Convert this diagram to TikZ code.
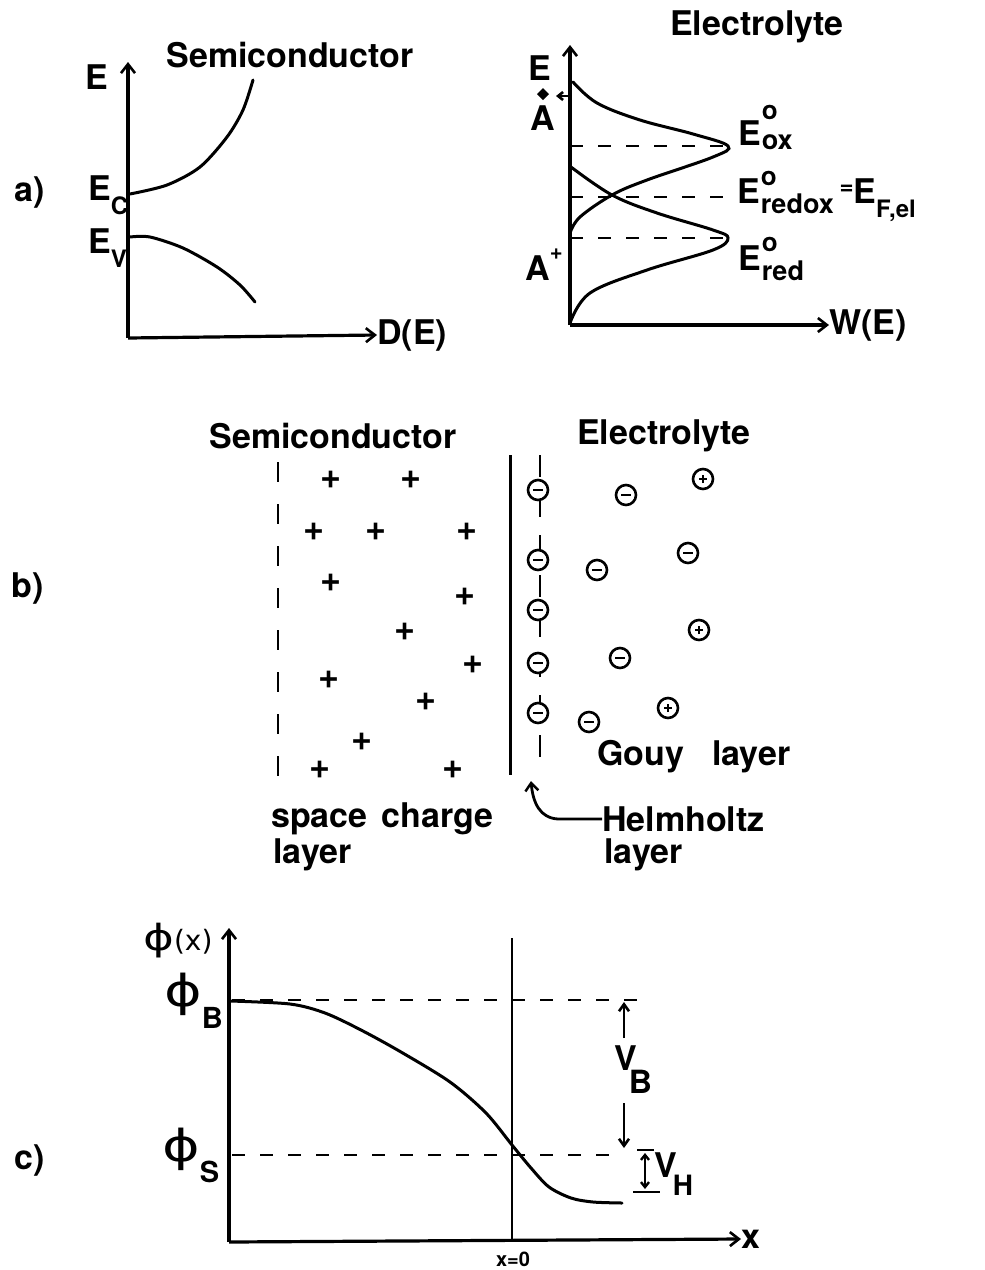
\documentclass[tikz,border=0pt]{standalone}
\usepackage{fontspec}
\setmainfont{TeX Gyre Heros}
\newfontfamily\grk{DejaVu Sans}
\usetikzlibrary{arrows.meta,positioning}
\newcommand{\esub}[2]{#1\raisebox{-0.42em}{\fontsize{24}{24}\selectfont #2}}
\newcommand{\elvl}[4][0.32em]{#2\hspace{1pt}\rlap{\raisebox{#3}{\fontsize{26}{26}\selectfont o}}\raisebox{-#1}{\fontsize{27}{27}\selectfont #4}}
\newcommand{\phisym}[1]{{\grk\fontsize{#1}{#1}\selectfont\scalebox{1.3}[1]{ϕ}}}
\tikzset{
  lbl/.style={font=\bfseries\fontsize{34}{38}\selectfont, inner sep=0pt},
  tiny lbl/.style={font=\bfseries\fontsize{20}{22}\selectfont, inner sep=0pt},
  axis/.style={line width=3.2pt, -{Straight Barb[length=9pt,width=14pt,line width=2.6pt]}},
  curve/.style={line width=3pt, line cap=round},
  lvl/.style={line width=2.6pt, dash pattern=on 13pt off 15pt},
  pluscharge/.style={font=\bfseries\fontsize{36}{36}\selectfont, inner sep=0pt},
  ion/.style={circle, draw, line width=2.6pt, fill=white, minimum size=20pt, inner sep=0pt},
  anion/.style={ion, path picture={\draw[line width=2.6pt] ([xshift=-5pt]path picture bounding box.center) -- ([xshift=5pt]path picture bounding box.center);}},
  cation/.style={ion, path picture={\draw[line width=2.6pt] ([xshift=-4pt]path picture bounding box.center) -- ([xshift=4pt]path picture bounding box.center) ([yshift=-4pt]path picture bounding box.center) -- ([yshift=4pt]path picture bounding box.center);}},
}
\begin{document}
\begin{tikzpicture}[x=1pt, y=-1pt]
  \useasboundingbox (0,0) rectangle (985,1270);

  % a) density of states, semiconductor
  \node[lbl] (tagA) at (30,192) {a)};
  \node[lbl] (semiA) at (290,55) {Semiconductor};
  \coordinate (sO) at (128,338);
  \coordinate (sTop) at (128,62);
  \node[lbl, anchor=west] (dE) at (377,335) {D(E)};
  \node[lbl] (sE) at (97,77) {E};
  \draw[axis] (sO) -- (sTop);
  \draw[axis] (sO) -- (dE.west);
  \node[lbl, anchor=base west] (eC) at (88,200) {\esub{E}{C}};
  \node[lbl, anchor=base west] (eV) at (88,253) {\esub{E}{V}};
  \draw[curve] plot[smooth] coordinates {(130,194) (167,185) (200,167) (227,137) (243,110) (253,80)};
  \draw[curve] plot[smooth] coordinates {(130,237) (150,237) (183,248) (217,267) (240,285) (255,302)};

  % a) redox distribution, electrolyte
  \node[lbl] (elecA) at (757,27) {Electrolyte};
  \coordinate (eO) at (570,325);
  \coordinate (eTop) at (570,45);
  \node[lbl, anchor=west] (wE) at (829,325) {W(E)};
  \node[lbl] (eE) at (540,68) {E};
  \draw[axis] (eO) -- (eTop);
  \draw[axis] (eO) -- (wE.west);
  \draw[curve] plot[smooth, tension=0.6] coordinates {(573,82) (597,103) (640,120) (693,134) (728,146) (713,157) (647,180) (612,195) (580,217) (570,233)};
  \draw[curve] plot[smooth, tension=0.6] coordinates {(571,167) (612,195) (657,213) (713,230) (728,238) (713,250) (647,270) (590,293) (570,323)};
  \draw[lvl] (570,146) -- (728,146);
  \draw[lvl] (570,197) -- (727,197);
  \draw[lvl] (570,238) -- (728,238);
  \node[lbl, anchor=base west] (eOx) at (738,145) {\elvl[0.12em]{E}{0.75em}{ox}};
  \node[lbl, anchor=base west] (eRedox) at (737,203) {\elvl{E}{0.52em}{redox}\,\raisebox{0.25em}{\fontsize{24}{24}\selectfont =}\esub{E}{F,el}};
  \node[lbl, anchor=base west] (eRed) at (738,270) {\elvl{E}{0.55em}{red}};
  \node[lbl, anchor=base west] (aUp) at (530,130) {A};
  \fill (543,88) -- (549,94) -- (543,100) -- (537,94) -- cycle;
  \draw[line width=2.6pt, -{Straight Barb[length=5pt,width=8pt]}] (569,96) -- (556,96);
  \node[lbl, anchor=base west] (aLow) at (525,280) {A\raisebox{0.6em}{\fontsize{22}{22}\selectfont +}};

  % b) charge distribution at the interface
  \node[lbl] (tagB) at (28,588) {b)};
  \node[lbl] (semiB) at (333,436) {Semiconductor};
  \node[lbl] (elecB) at (664,436) {Electrolyte};
  \draw[line width=2.6pt, dash pattern=on 20pt off 22pt] (278,462) -- (278,776);
  \draw[line width=3pt] (510,455) -- (510,775);
  \draw[line width=2.6pt, dash pattern=on 22pt off 18pt] (540,455) -- (540,770);
  \foreach \p [count=\i] in {(331,480),(411,480),(314,532),(376,532),(467,532),(331,583),(465,597),(405,632),(473,665),(329,680),(426,702),(362,742),(320,770),(453,770)}
    \node[pluscharge] (plus\i) at \p {+};
  \foreach \y [count=\i] in {490,560,610,663,713}
    \node[anion] (hIon\i) at (538,\y) {};
  \foreach \p [count=\i] in {(626,495),(688,553),(597,570),(620,658),(589,722)}
    \node[anion] (gNeg\i) at \p {};
  \foreach \p [count=\i] in {(703,479),(699,630),(668,708)}
    \node[cation] (gPos\i) at \p {};
  \node[lbl, anchor=west] (gouy) at (597,757) {Gouy\hspace{28pt}layer};
  \node[lbl, anchor=west] (space) at (271,819) {space\hspace{14pt}charge};
  \node[lbl, anchor=west] (spaceL) at (273,855) {layer};
  \node[lbl, anchor=west] (helm) at (602,819) {Helmholtz};
  \node[lbl, anchor=west] (helmL) at (604,855) {layer};
  \coordinate (helmTip) at (531,781);
  \draw[line width=2.8pt, -{Straight Barb[length=8pt,width=13pt,line width=2.4pt]}] (helm.west) -- (558,819) .. controls (540,818) and (533,803) .. (helmTip);

  % c) potential distribution
  \node[lbl] (tagC) at (30,1160) {c)};
  \coordinate (pO) at (229,1242);
  \coordinate (pTop) at (229,928);
  \node[lbl, anchor=west] (xAx) at (741,1239) {x};
  \draw[axis] (pO) -- (pTop);
  \draw[axis] (pO) -- (xAx.west);
  \node[inner sep=0pt, anchor=base west] (phiX) at (143,950) {\phisym{36}{\grk\fontsize{28}{28}\selectfont(x)}};
  \draw[line width=2.2pt] (512,938) -- (512,1242);
  \node[tiny lbl] (xZero) at (513,1259) {x=0};
  \node[inner sep=0pt, anchor=base west] (phiB) at (164,1006) {\phisym{44}\raisebox{-22pt}{\bfseries\fontsize{29}{29}\selectfont B}};
  \node[inner sep=0pt, anchor=base west] (phiS) at (162,1161) {\phisym{44}\raisebox{-21pt}{\bfseries\fontsize{29}{29}\selectfont S}};
  \draw[lvl] (232,1000) -- (638,1000);
  \draw[lvl] (232,1155) -- (612,1155);
  \draw[curve] plot[smooth] coordinates {(230,1001) (290,1004) (325,1013) (361,1030) (401,1052) (450,1082) (486,1113) (512,1145) (531,1168) (549,1187) (571,1198) (593,1202) (622,1203)};
  \node[lbl, anchor=base west] (vB) at (614,1070) {V\hspace{-8pt}\raisebox{-0.7em}{\fontsize{32}{32}\selectfont B}};
  \coordinate (vBtop) at (624,1002);
  \coordinate (vBbot) at (624,1148);
  \draw[line width=2.6pt, -{Straight Barb[length=7pt,width=10pt]}] (624,1038) -- (vBtop);
  \draw[line width=2.6pt, -{Straight Barb[length=7pt,width=10pt]}] (624,1103) -- (vBbot);
  \node[lbl, anchor=base west] (vH) at (654,1177) {V\hspace{-4pt}\raisebox{-0.55em}{\fontsize{28}{28}\selectfont H}};
  \draw[line width=2.4pt] (637,1150) -- (654,1150);
  \draw[line width=2.4pt] (633,1192) -- (660,1192);
  \draw[line width=2.4pt, {Straight Barb[length=5pt,width=8pt]}-{Straight Barb[length=5pt,width=8pt]}] (645,1153) -- (645,1189);
\end{tikzpicture}
\end{document}
